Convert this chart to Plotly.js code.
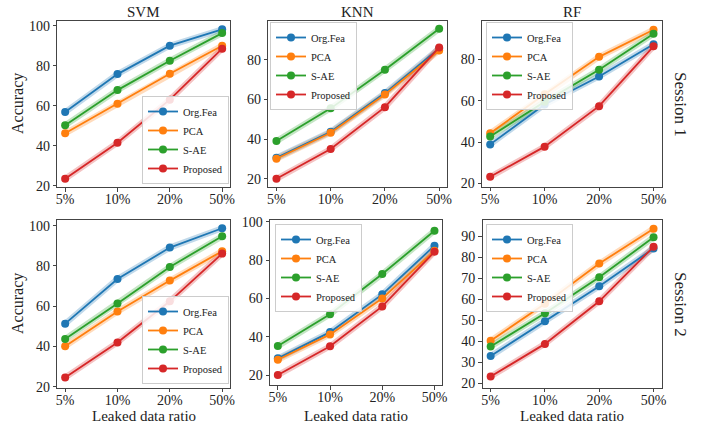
<!DOCTYPE html>
<html>
<head>
<meta charset="utf-8">
<script src="https://cdn.plot.ly/plotly-3.0.1.min.js"></script>
<style>html,body{margin:0;padding:0;background:#fff;}#chart{width:701px;height:428px;}</style>
</head>
<body>
<div id="chart"></div>
<script>
// ---- data ----
const ratios = ['5%', '10%', '20%', '50%'];
const methods = ['Org.Fea', 'PCA', 'S-AE', 'Proposed'];
const colors = ['#1f77b4', '#ff7f0e', '#2ca02c', '#d62728'];
const classifiers = ['SVM', 'KNN', 'RF'];
const sessions = ['Session 1', 'Session 2'];

// Session 1 (rows: Org.Fea, PCA, S-AE, Proposed)
const svm_s1 = [[56.8, 75.8, 90.0, 98.2], [46.2, 61.0, 76.0, 90.0], [50.2, 67.8, 82.5, 96.3], [23.5, 41.5, 63.0, 88.5]];
const knn_s1 = [[30.6, 43.7, 63.2, 85.7], [30.1, 43.2, 62.5, 84.7], [39.0, 55.5, 75.0, 95.6], [20.0, 35.0, 56.1, 86.2]];
const rf_s1  = [[38.9, 58.2, 71.8, 87.4], [44.3, 63.2, 81.3, 94.4], [42.7, 59.5, 75.0, 92.5], [23.2, 37.8, 57.4, 86.4]];
// Session 2
const svm_s2 = [[51.3, 73.5, 89.1, 98.7], [40.1, 57.3, 72.7, 87.3], [43.7, 61.3, 79.5, 94.7], [24.6, 42.0, 62.4, 86.1]];
const knn_s2 = [[28.7, 42.4, 62.1, 87.5], [28.0, 41.2, 60.0, 84.8], [35.1, 51.7, 72.7, 95.3], [20.0, 35.0, 55.8, 84.3]];
const rf_s2  = [[33.0, 49.5, 66.2, 84.1], [40.3, 57.8, 76.9, 93.5], [37.6, 53.3, 70.4, 89.4], [23.3, 38.8, 59.0, 84.9]];

const panels = [svm_s1, knn_s1, rf_s1, svm_s2, knn_s2, rf_s2];

// ---- layout helpers (pixel geometry) ----
const W = 701, H = 428;
const fx = p => p / W;
const fy = p => 1 - p / H;
const xdom = [[57.3, 230], [268.3, 447.3], [482, 661.7], [57.3, 230], [270, 442.3], [482.5, 661.7]];
const ydom = [[21, 187], [20.5, 186.7], [20.5, 186.7], [220, 387.5], [220, 385], [220, 387.5]];
const yrng = [[19.35, 102.35], [16.0, 99.8], [18.4, 98.9], [19.6, 102.8], [14.8, 100.9], [18.1, 97.6]];
const ydt = [20, 20, 20, 20, 20, 10];
// legend boxes: [x, y, xanchor, yanchor] in px
const legpos = [[229, 184, 'right', 'bottom'], [270, 22, 'left', 'top'], [486, 22, 'left', 'top'],
                [229, 384, 'right', 'bottom'], [275, 224, 'left', 'top'], [486, 224, 'left', 'top']];

const serif = "Liberation Serif";
const traces = [];
const layout = {
  width: W, height: H,
  margin: {l: 0, r: 0, t: 0, b: 0},
  paper_bgcolor: '#fff', plot_bgcolor: '#fff',
  font: {family: serif, size: 13, color: '#222'},
  showlegend: true,
  annotations: []
};

panels.forEach((panel, pi) => {
  const k = pi + 1;
  const xa = k === 1 ? 'x' : 'x' + k;
  const ya = k === 1 ? 'y' : 'y' + k;
  const legId = k === 1 ? 'legend' : 'legend' + k;
  panel.forEach((vals, mi) => {
    // soft band under the line
    traces.push({
      x: ratios, y: vals, xaxis: xa, yaxis: ya, type: 'scatter', mode: 'lines',
      line: {color: colors[mi], width: 6}, opacity: 0.28, showlegend: false, hoverinfo: 'skip'
    });
  });
  panel.forEach((vals, mi) => {
    traces.push({
      x: ratios, y: vals, xaxis: xa, yaxis: ya, type: 'scatter', mode: 'lines+markers',
      name: methods[mi], legend: legId,
      line: {color: colors[mi], width: 1.8},
      marker: {color: colors[mi], size: 8, symbol: 'circle'}
    });
  });
  const axCommon = {
    showgrid: false, zeroline: false, showline: true, mirror: true,
    linecolor: '#444', linewidth: 1, ticks: 'outside', ticklen: 3.5, tickwidth: 1, tickcolor: '#444',
    tickfont: {family: serif, size: 14, color: '#222'}, fixedrange: true
  };
  layout[k === 1 ? 'xaxis' : 'xaxis' + k] = Object.assign({}, axCommon, {
    domain: [fx(xdom[pi][0]), fx(xdom[pi][1])], anchor: ya, type: 'category',
    range: [-0.15, 3.15], categoryorder: 'array', categoryarray: ratios,
    ticklabelstandoff: -4
  });
  layout[k === 1 ? 'yaxis' : 'yaxis' + k] = Object.assign({}, axCommon, {
    domain: [fy(ydom[pi][1]), fy(ydom[pi][0])], anchor: xa,
    range: yrng[pi], dtick: ydt[pi], tick0: 0
  });
  const lp = legpos[pi];
  layout[legId] = {
    x: fx(lp[0]), y: fy(lp[1]), xanchor: lp[2], yanchor: lp[3],
    xref: 'paper', yref: 'paper',
    bgcolor: 'rgba(255,255,255,0.85)', bordercolor: '#cccccc', borderwidth: 1,
    font: {family: serif, size: 10.5, color: '#222'},
    itemwidth: 30, tracegroupgap: 0
  };
});

// column titles
const colCenters = [143.6, 357.8, 571.8];
classifiers.forEach((c, i) => {
  layout.annotations.push({text: c, x: fx(colCenters[i]), y: fy(12), xref: 'paper', yref: 'paper',
    showarrow: false, font: {family: serif, size: 15, color: '#222'}, xanchor: 'center', yanchor: 'middle'});
});
// row labels
[104, 304].forEach((yc, i) => {
  layout.annotations.push({text: sessions[i], x: fx(681), y: fy(yc), xref: 'paper', yref: 'paper',
    showarrow: false, textangle: 90, font: {family: serif, size: 17, color: '#222'}, xanchor: 'center', yanchor: 'middle'});
});
// y-axis titles
[104, 304].forEach(yc => {
  layout.annotations.push({text: 'Accuracy', x: fx(18), y: fy(yc), xref: 'paper', yref: 'paper',
    showarrow: false, textangle: -90, font: {family: serif, size: 16, color: '#222'}, xanchor: 'center', yanchor: 'middle'});
});
// x-axis titles
[143.6, 356, 572].forEach(xc => {
  layout.annotations.push({text: 'Leaked data ratio', x: fx(xc), y: fy(416), xref: 'paper', yref: 'paper',
    showarrow: false, font: {family: serif, size: 15, color: '#222'}, xanchor: 'center', yanchor: 'middle'});
});

Plotly.newPlot('chart', traces, layout, {displayModeBar: false, staticPlot: true});
</script>
</body>
</html>
